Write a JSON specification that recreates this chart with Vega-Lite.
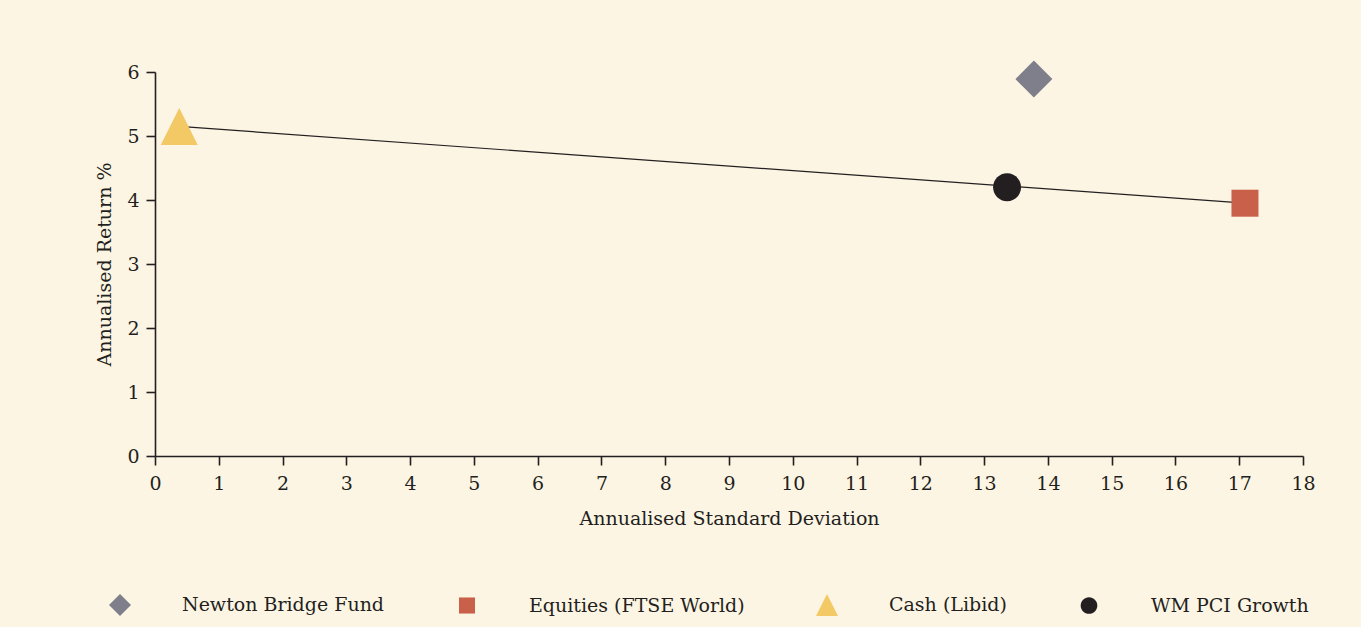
{
  "$schema": "https://vega.github.io/schema/vega-lite/v6.json",
  "width": 1148,
  "height": 384,
  "autosize": "none",
  "padding": {"left": 155, "top": 72, "right": 58, "bottom": 171},
  "background": "#fdf5e4",
  "config": {
    "view": {"stroke": null},
    "font": "DejaVu Serif",
    "axis": {
      "labelFont": "DejaVu Serif",
      "titleFont": "DejaVu Serif",
      "labelFontSize": 19,
      "titleFontSize": 19,
      "titleFontWeight": "normal",
      "labelColor": "#231f20",
      "titleColor": "#231f20",
      "domainColor": "#231f20",
      "tickColor": "#231f20",
      "domainWidth": 1.6,
      "tickWidth": 1.6,
      "tickSize": 9,
      "grid": false
    }
  },
  "datasets": {
    "points": [
      {"series": "Newton Bridge Fund", "sd": 13.78, "ret": 5.89},
      {"series": "Equities (FTSE World)", "sd": 17.09, "ret": 3.95},
      {"series": "Cash (Libid)", "sd": 0.38, "ret": 5.15},
      {"series": "WM PCI Growth", "sd": 13.36, "ret": 4.2}
    ],
    "frontier": [
      {"sd": 0.38, "ret": 5.15},
      {"sd": 17.09, "ret": 3.95}
    ]
  },
  "layer": [
    {
      "data": {"name": "frontier"},
      "mark": {"type": "line", "color": "#231f20", "strokeWidth": 1.2},
      "encoding": {
        "x": {"field": "sd", "type": "quantitative"},
        "y": {"field": "ret", "type": "quantitative"}
      }
    },
    {
      "data": {"name": "points"},
      "mark": {"type": "point", "filled": true, "opacity": 1, "strokeWidth": 0, "size": 1369},
      "encoding": {
        "x": {
          "field": "sd",
          "type": "quantitative",
          "scale": {"domain": [0, 18], "nice": false, "zero": false},
          "axis": {
            "title": "Annualised Standard Deviation",
            "values": [0,0.5,1,1.5,2,2.5,3,3.5,4,4.5,5,5.5,6,6.5,7,7.5,8,8.5,9,9.5,10,10.5,11,11.5,12,12.5,13,13.5,14,14.5,15,15.5,16,16.5,17,17.5,18],
            "labelExpr": "datum.value % 1 === 0 ? format(datum.value, 'd') : ''",
            "labelPadding": 9,
            "titlePadding": 16,
            "labelFlush": false,
            "labelOverlap": false
          }
        },
        "y": {
          "field": "ret",
          "type": "quantitative",
          "scale": {"domain": [0, 6], "nice": false},
          "axis": {
            "title": "Annualised Return %",
            "values": [0,0.5,1,1.5,2,2.5,3,3.5,4,4.5,5,5.5,6],
            "labelExpr": "datum.value % 1 === 0 ? format(datum.value, 'd') : ''",
            "labelPadding": 7,
            "titlePadding": 12,
            "labelOverlap": false
          }
        },
        "color": {
          "field": "series",
          "type": "nominal",
          "scale": {
            "domain": ["Newton Bridge Fund", "Equities (FTSE World)", "Cash (Libid)", "WM PCI Growth"],
            "range": ["#7e7f8a", "#c9604a", "#f2c964", "#231f20"]
          },
          "legend": {
            "orient": "none",
            "legendX": -46,
            "legendY": 522,
            "direction": "horizontal",
            "columns": 4,
            "columnPadding": 71,
            "labelOffset": 51,
            "symbolSize": 484,
            "symbolStrokeWidth": 0,
            "symbolOpacity": 1,
            "labelFont": "DejaVu Serif",
            "labelFontSize": 19,
            "labelColor": "#231f20",
            "labelLimit": 400,
            "title": null,
            "padding": 0
          }
        },
        "shape": {
          "field": "series",
          "type": "nominal",
          "scale": {
            "domain": ["Newton Bridge Fund", "Equities (FTSE World)", "Cash (Libid)", "WM PCI Growth"],
            "range": [
              "diamond",
              "M-0.73,-0.73H0.73V0.73H-0.73Z",
              "M0,-1L-1,1L1,1Z",
              "M0.757,0A0.757,0.757,0,1,1,-0.757,0A0.757,0.757,0,1,1,0.757,0Z"
            ]
          }
        }
      }
    }
  ]
}
